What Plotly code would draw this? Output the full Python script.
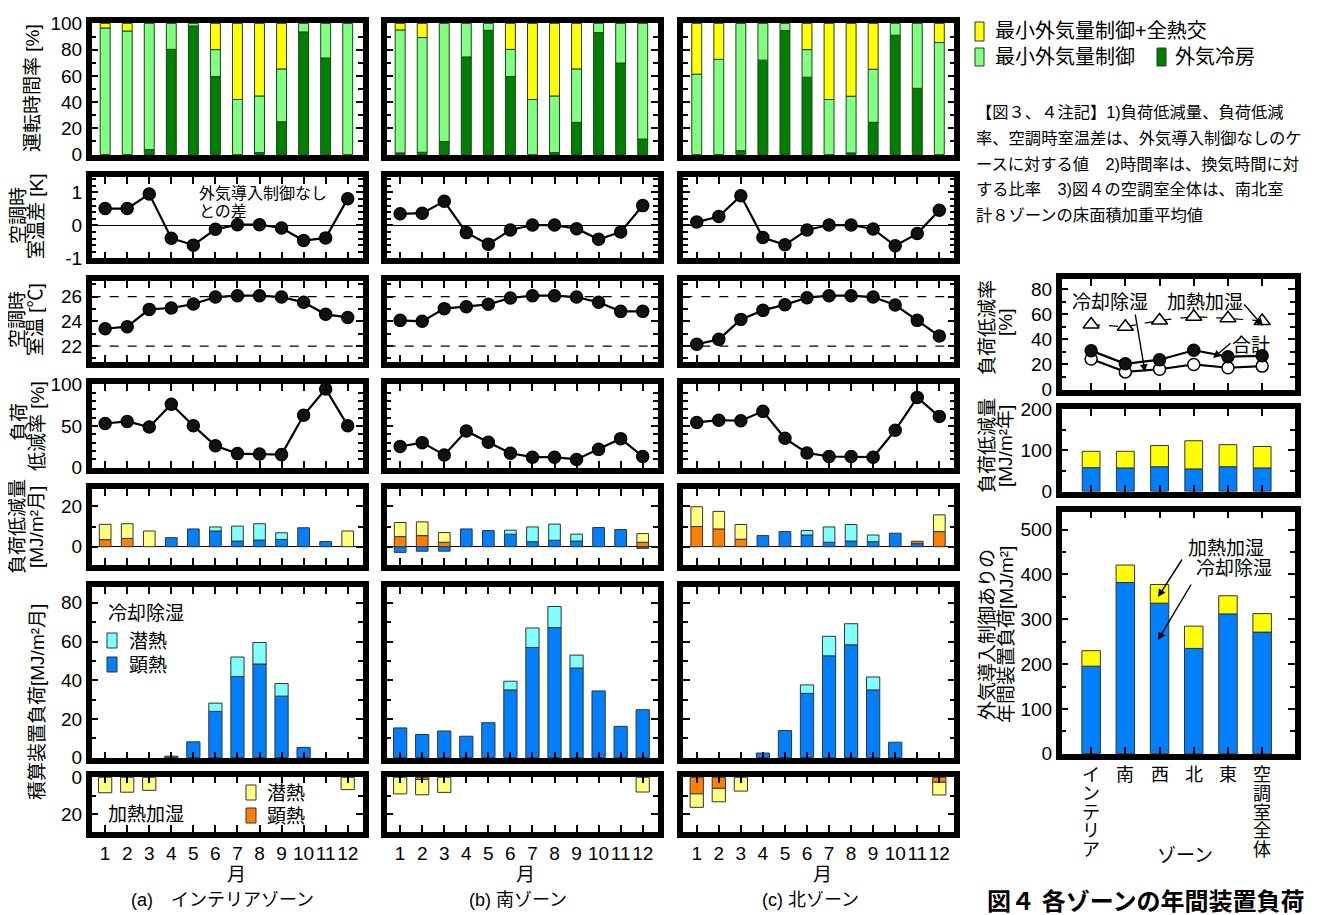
import plotly.graph_objects as go

# page body has an 8px margin: the figure is laid out in reference pixels
OFF = 8
W, H = 1319 - OFF, 915 - OFF
FONT = "Liberation Sans, Noto Sans CJK JP, sans-serif"

# ---------------- data ----------------
months = list(range(1, 13))
month_labels = [str(m) for m in months]
dT_ticks = [-1, 0, 1]
dT_ticktext = ["-1", "0", "1"]

# 運転時間率 [%]  (外気冷房 / 最小外気量制御 / 最小外気量制御+全熱交)
oc_a = [0, 0, 3.8, 80.2, 98, 59.5, 0, 1.5, 25, 93.5, 73.6, 0]
mn_a = [96.5, 94.2, 96.2, 19.8, 2, 20.5, 42, 43.2, 40.3, 6.5, 26.4, 100]
hx_a = [3.5, 5.8, 0, 0, 0, 20, 58, 55.3, 34.7, 0, 0, 0]
oc_b = [1.3, 1.8, 10, 74.4, 94.7, 59.5, 0, 1.5, 24.6, 93, 69.8, 11.8]
mn_b = [93.7, 87.4, 90, 25.6, 5.3, 20.7, 42, 43.2, 40.7, 7, 30.2, 88.2]
hx_b = [5, 10.8, 0, 0, 0, 19.8, 58, 55.3, 34.7, 0, 0, 0]
oc_c = [0, 0, 3, 72, 94.5, 59, 0, 1.3, 24.6, 91, 50.5, 0]
mn_c = [61.3, 72.6, 97, 28, 5.5, 21, 42, 43.2, 40.4, 9, 49.5, 85.4]
hx_c = [38.7, 27.4, 0, 0, 0, 20, 58, 55.5, 35, 0, 0, 14.6]

# 空調時室温差 [K]
dT_a = [0.51, 0.51, 0.95, -0.39, -0.6, -0.12, 0.02, 0.02, -0.08, -0.46, -0.38, 0.81]
dT_b = [0.35, 0.37, 0.73, -0.22, -0.57, -0.14, 0.01, 0.01, -0.1, -0.42, -0.2, 0.6]
dT_c = [0.1, 0.27, 0.9, -0.37, -0.59, -0.14, 0.01, 0.01, -0.11, -0.62, -0.25, 0.46]

# 空調時室温 [℃]
T_a = [23.4, 23.57, 24.97, 25.08, 25.4, 25.97, 26.08, 26.08, 25.97, 25.54, 24.57, 24.32]
T_b = [24.08, 24.0, 25.03, 25.19, 25.38, 25.89, 26.08, 26.08, 25.97, 25.54, 24.81, 24.81]
T_c = [22.14, 22.54, 24.16, 24.89, 25.35, 25.92, 26.08, 26.08, 25.97, 25.32, 24.08, 22.81]

# 負荷低減率 [%]
R_a = [53, 55.5, 48.8, 76.2, 50.4, 26.2, 16.8, 16.4, 15.6, 62.9, 94.5, 50.4]
R_b = [25.4, 30, 15.2, 44.1, 30.5, 17.2, 12.5, 12.5, 9.8, 21.9, 34.8, 13.3]
R_c = [54.3, 57, 56.3, 67.6, 35.2, 17.6, 13.3, 13.3, 12.5, 44.9, 84.4, 61.3]

# 負荷低減量 [MJ/m²月]  (冷却顕熱 / 冷却潜熱 / 加熱顕熱 / 加熱潜熱)
rcs_a = [0, 0, 0, 4.5, 8.8, 7.8, 2.8, 3.3, 3.6, 9.4, 2.6, 0]
rcl_a = [0, 0, 0, 0, 0, 2.0, 7.4, 8.1, 3.3, 0, 0, 0]
rhs_a = [3.5, 4.1, 0, 0, 0, 0, 0, 0, 0, 0, 0, 0]
rhl_a = [7.6, 7.3, 7.8, 0, 0, 0, 0, 0, 0, 0, 0, 7.8]
rcs_b = [-2.8, -2.2, -2.2, 8.8, 8.0, 6.2, 2.5, 3.2, 2.8, 9.5, 8.5, -0.8]
rcl_b = [0, 0, 0, 0, 0, 2.0, 7.3, 8.0, 3.4, 0, 0, 0]
rhs_b = [5.0, 5.5, 2.2, 0, 0, 0, 0, 0, 0, 0, 0, 2.2]
rhl_b = [7.0, 6.8, 4.8, 0, 0, 0, 0, 0, 0, 0, 0, 4.3]
rcs_c = [0, 0, 0, 5.5, 7.5, 5.8, 2.2, 2.8, 2.5, 6.7, 1.5, 0]
rcl_c = [0, 0, 0, 0, 0, 2.2, 7.6, 8.2, 3.3, 0, 0, 0]
rhs_c = [10, 8.8, 3.7, 0, 0, 0, 0, 0, 0, 0, 1.2, 7.5]
rhl_c = [9.8, 8.7, 7.3, 0, 0, 0, 0, 0, 0, 0, 0, 8.3]

# 積算装置負荷 冷却除湿 [MJ/m²月]
cs_a = [0, 0, 0, 0.8, 8.2, 23.9, 41.9, 48.4, 31.8, 5.3, 0, 0]
cl_a = [0, 0, 0, 0, 0, 4.3, 10.1, 11.1, 6.5, 0, 0, 0]
cs_b = [15.4, 12, 13.8, 11.1, 18.1, 35, 56.9, 67.2, 46.3, 34.5, 16.2, 24.8]
cl_b = [0, 0, 0, 0, 0, 4.5, 10.1, 10.9, 6.7, 0, 0, 0]
cs_c = [0, 0, 0, 2.4, 14, 33.2, 52.6, 58.3, 35, 8, 0, 0]
cl_c = [0, 0, 0, 0, 0, 4.4, 10.1, 10.9, 6.7, 0, 0, 0]

# 積算装置負荷 加熱加湿 [MJ/m²月]
hs_a = [0] * 12
hl_a = [8.4, 8.1, 7.1, 0, 0, 0, 0, 0, 0, 0, 0, 6.7]
hs_b = [0, 1.2, 0, 0, 0, 0, 0, 0, 0, 0, 0, 0]
hl_b = [9.0, 8.3, 8.2, 0, 0, 0, 0, 0, 0, 0, 0, 8.0]
hs_c = [9, 6, 0, 0, 0, 0, 0, 0, 0, 0, 0, 2.7]
hl_c = [7.3, 7.3, 7.5, 0, 0, 0, 0, 0, 0, 0, 0, 6.9]

# 図4 ゾーン別
zones = ["インテリア", "南", "西", "北", "東", "空調室全体"]
zone_pos = [1, 2, 3, 4, 5, 6]
rr_heat = [51.8, 50, 55, 58, 56.7, 54.6]
rr_total = [31, 20.5, 23.8, 31.3, 26.2, 26.9]
rr_cool = [24.4, 14.1, 16.2, 20, 17.4, 18.7]
yrr_cool = [57.8, 57, 60, 54.7, 60, 57]
yrr_heat = [39.9, 40.7, 51.7, 68.7, 54, 52.4]
yl_cool = [195.4, 382, 336, 235, 312, 271.4]
yl_heat = [34.6, 39, 41.6, 49.7, 40.5, 41.3]

# ---------------- colours ----------------
C_YEL = "#ffff00"
C_LGR = "#80ff80"
C_DGR = "#008000"
C_BLU = "#0080ff"
C_CYA = "#80ffff"
C_ORA = "#ff8000"
C_LYE = "#ffff80"

fig = go.Figure()
layout = {}
shapes = []
annotations = []
cnt = [0]


def fx(x):
    return (x - OFF) / W


def fy(y):
    return 1 - (y - OFF) / H


def nz(v):
    return [None if x == 0 else x for x in v]


def panel(xpx, ypx, xrange, yrange, ymaj, ymin, ylab=False, xticks=True,
          xvals=months, xlab=False, zeroline=False, ytext=None):
    cnt[0] += 1
    i = cnt[0]
    xa = "xaxis" if i == 1 else f"xaxis{i}"
    ya = "yaxis" if i == 1 else f"yaxis{i}"
    xr = "x" if i == 1 else f"x{i}"
    yr = "y" if i == 1 else f"y{i}"
    tf = dict(size=19, color="black", family=FONT)
    layout[xa] = dict(domain=[fx(xpx[0]), fx(xpx[1])], range=xrange, anchor=yr,
                      automargin=False,
                      showgrid=False, zeroline=False, showline=True, linewidth=5.5,
                      linecolor="black", mirror="ticks" if xticks else True,
                      ticks="inside" if xticks else "", tickmode="array",
                      tickvals=xvals, ticktext=month_labels if xlab else None,
                      ticklen=7, tickwidth=1.8, tickcolor="black",
                      showticklabels=xlab, tickangle=0, tickfont=tf,
                      ticklabelstandoff=0)
    yd = dict(domain=[fy(ypx[1]), fy(ypx[0])], range=yrange, anchor=xr,
              automargin=False,
              showgrid=False, zeroline=zeroline, zerolinecolor="black",
              zerolinewidth=1.2, showline=True, linewidth=5.5, linecolor="black",
              mirror="ticks", ticks="inside", tickmode="array", tickvals=ymaj,
              ticklen=7, tickwidth=1.8, tickcolor="black",
              minor=dict(tickmode="array", tickvals=ymin, ticks="inside",
                         ticklen=5, tickwidth=1.8, tickcolor="black", showgrid=False),
              showticklabels=ylab, tickfont=tf, ticklabelstandoff=0)
    if ytext is not None:
        yd["ticktext"] = ytext
    layout[ya] = yd
    return xr, yr


def bars(xr, yr, x, y, color, width, lc="#333"):
    fig.add_trace(go.Bar(x=x, y=nz(y), xaxis=xr, yaxis=yr, width=width,
                         marker=dict(color=color, line=dict(color=lc, width=1)),
                         showlegend=False, hoverinfo="skip"))


def linepts(xr, yr, x, y, fill="#111", dash="solid", symbol="circle", lw=2.2, size=12):
    fig.add_trace(go.Scatter(x=x, y=y, xaxis=xr, yaxis=yr, mode="lines+markers",
                             line=dict(color="black", width=lw, dash=dash),
                             marker=dict(color=fill, size=size, symbol=symbol,
                                         line=dict(color="black", width=1.5)),
                             showlegend=False, hoverinfo="skip"))


def txt(x, y, text, size=19, xanchor="center", angle=0, bold=False):
    if bold:
        text = "<b>" + text + "</b>"
    annotations.append(dict(x=fx(x), y=fy(y), xref="paper", yref="paper", text=text,
                            showarrow=False, xanchor=xanchor, yanchor="middle",
                            textangle=angle, font=dict(size=size, color="black", family=FONT)))


def arrow(x0, y0, x1, y1):
    annotations.append(dict(x=fx(x1), y=fy(y1), xref="paper", yref="paper", text="",
                            showarrow=True, ax=x0 - x1, ay=y0 - y1, arrowhead=2,
                            arrowsize=1.1, arrowwidth=1.4, arrowcolor="black"))


def rect(x0, y0, x1, y1, color):
    shapes.append(dict(type="rect", xref="paper", yref="paper", x0=fx(x0), x1=fx(x1),
                       y0=fy(y1), y1=fy(y0), fillcolor=color,
                       line=dict(color="#333", width=1)))


cols = [(91.7, 362.7), (386.7, 657.7), (683.3, 954.3)]
rows = [(23, 155), (177.3, 258.3), (281, 361.7), (384, 468), (489, 565),
        (587.3, 758.3), (776.7, 831.7)]
XR = [0.39, 12.68]

op_sets = [(oc_a, mn_a, hx_a), (oc_b, mn_b, hx_b), (oc_c, mn_c, hx_c)]
dT_sets = [dT_a, dT_b, dT_c]
T_sets = [T_a, T_b, T_c]
R_sets = [R_a, R_b, R_c]
red_sets = [(rcs_a, rcl_a, rhs_a, rhl_a), (rcs_b, rcl_b, rhs_b, rhl_b),
            (rcs_c, rcl_c, rhs_c, rhl_c)]
cool_sets = [(cs_a, cl_a), (cs_b, cl_b), (cs_c, cl_c)]
heat_sets = [(hs_a, hl_a), (hs_b, hl_b), (hs_c, hl_c)]

for c, cx in enumerate(cols):
    yl = (c == 0)
    # row 1
    xr, yr = panel(cx, rows[0], XR, [-0.3, 100.3], list(range(0, 101, 20)),
                   list(range(0, 101, 10)), ylab=yl, xticks=False)
    oc, mn, hx = op_sets[c]
    bars(xr, yr, months, oc, C_DGR, 0.45, "#1f3f1f")
    bars(xr, yr, months, mn, C_LGR, 0.45, "#1f3f1f")
    bars(xr, yr, months, hx, C_YEL, 0.45, "#1f3f1f")
    # row 2
    xr, yr = panel(cx, rows[1], XR, [-1.0, 1.46], dT_ticks,
                   [round(-1 + 0.2 * k, 1) for k in range(13)], ylab=yl, zeroline=True,
                   ytext=dT_ticktext)
    linepts(xr, yr, months, dT_sets[c])
    # row 3
    xr, yr = panel(cx, rows[2], XR, [20.73, 27.27], [22, 24, 26],
                   list(range(21, 28)), ylab=yl)
    for lv in (22, 26):
        shapes.append(dict(type="line", xref=f"{xr} domain", yref=yr, x0=0, x1=1,
                           y0=lv, y1=lv, line=dict(color="black", width=1.2, dash="dash"),
                           layer="below"))
    linepts(xr, yr, months, T_sets[c])
    # row 4
    xr, yr = panel(cx, rows[3], XR, [-0.5, 100.5], [0, 50, 100],
                   list(range(0, 101, 10)), ylab=yl)
    linepts(xr, yr, months, R_sets[c])
    # row 5
    xr, yr = panel(cx, rows[4], XR, [-9.06, 28.6], [0, 20], [-10, 0, 10, 20],
                   ylab=yl, zeroline=True)
    rcs, rcl, rhs, rhl = red_sets[c]
    bars(xr, yr, months, rcs, C_BLU, 0.53)
    bars(xr, yr, months, rcl, C_CYA, 0.53)
    bars(xr, yr, months, rhs, C_ORA, 0.53)
    bars(xr, yr, months, rhl, C_LYE, 0.53)
    # row 6
    xr, yr = panel(cx, rows[5], XR, [-0.3, 88.0], [0, 20, 40, 60, 80],
                   list(range(0, 90, 10)), ylab=yl)
    cs, cl = cool_sets[c]
    bars(xr, yr, months, cs, C_BLU, 0.6)
    bars(xr, yr, months, cl, C_CYA, 0.6)
    # row 7
    xr, yr = panel(cx, rows[6], XR, [29.5, -0.3], [0, 20], [0, 10, 20],
                   ylab=yl, xlab=True)
    hs, hl = heat_sets[c]
    bars(xr, yr, months, hs, C_ORA, 0.6)
    bars(xr, yr, months, hl, C_LYE, 0.6)

# ---------------- right column (図4) ----------------
RX = (1061.7, 1295)
ZR = [0.14, 6.96]
xr, yr = panel(RX, (279, 390), ZR, [-0.3, 88], [0, 20, 40, 60, 80],
               list(range(0, 90, 10)), ylab=True, xvals=zone_pos)
linepts(xr, yr, zone_pos, rr_heat, fill="white", dash="dash", symbol="triangle-up",
        lw=1.2, size=14)
linepts(xr, yr, zone_pos, rr_cool, fill="white")
linepts(xr, yr, zone_pos, rr_total, fill="#111")

xr, yr = panel(RX, (409, 491.7), ZR, [-1, 201], [0, 100, 200], [0, 50, 100, 150, 200],
               ylab=True, xvals=zone_pos)
bars(xr, yr, zone_pos, yrr_cool, C_BLU, 0.52)
bars(xr, yr, zone_pos, yrr_heat, C_YEL, 0.52)

xr3, yr3 = panel(RX, (511.7, 754), ZR, [-0.5, 540], list(range(0, 501, 100)),
                 list(range(0, 541, 50)), ylab=True, xvals=zone_pos)
bars(xr3, yr3, zone_pos, yl_cool, C_BLU, 0.54)
bars(xr3, yr3, zone_pos, yl_heat, C_YEL, 0.54)

# zone labels (vertical)
for p, z in zip(zone_pos, zones):
    for k, ch in enumerate(z):
        annotations.append(dict(x=p, y=fy(775 + 18.8 * k), xref=xr3, yref="paper",
                                text=ch, showarrow=False, xanchor="center", yanchor="middle",
                                font=dict(size=18, color="black", family=FONT)))
txt(1185, 855, "ゾーン")
txt(985, 901, "図４ 各ゾーンの年間装置負荷", size=24, xanchor="left", bold=True)

# annotations right
txt(1110, 302, "冷却除湿")
arrow(1135, 313, 1145, 372)
txt(1205, 302, "加熱加湿")
arrow(1243, 303, 1263, 326)
txt(1251, 346, "合計")
arrow(1232, 342, 1213, 358)
txt(1226, 548, "加熱加湿")
txt(1234, 568, "冷却除湿")
arrow(1183, 558, 1158, 597)
arrow(1192, 583, 1158, 640)

# axis titles (left)
txt(33, 88, "運転時間率 [%]", angle=-90)
txt(18, 216, "空調時", angle=-90)
txt(36, 216, "室温差 [K]", angle=-90)
txt(17, 320, "空調時", angle=-90)
txt(35, 320, "室温 [℃]", angle=-90)
txt(20, 422, "負荷", angle=-90)
txt(37, 426, "低減率 [%]", angle=-90)
txt(17, 527, "負荷低減量", angle=-90)
txt(36, 527, "[MJ/m²月]", angle=-90)
txt(37, 702, "積算装置負荷[MJ/m²月]", angle=-90)
# axis titles (right)
txt(987, 328, "負荷低減率", angle=-90)
txt(1005, 323, "[%]", angle=-90)
txt(987, 446, "負荷低減量", angle=-90)
txt(1005, 446, "[MJ/m²年]", angle=-90)
txt(987, 635, "外気導入制御ありの", angle=-90)
txt(1006, 635, "年間装置負荷[MJ/m²]", angle=-90)

# in-panel labels
txt(197, 193, "外気導入制御なし", size=16, xanchor="left")
txt(197, 211, "との差", size=16, xanchor="left")
txt(106, 613, "冷却除湿", size=19, xanchor="left")
rect(107, 633, 117, 648, C_CYA)
txt(127, 641, "潜熱", size=19, xanchor="left")
rect(107, 657, 117, 672, C_BLU)
txt(127, 665, "顕熱", size=19, xanchor="left")
txt(106, 814, "加熱加湿", size=19, xanchor="left")
rect(246, 785, 256, 800, C_LYE)
txt(265, 793, "潜熱", size=19, xanchor="left")
rect(246, 808, 256, 823, C_ORA)
txt(265, 816, "顕熱", size=19, xanchor="left")

# month axis captions
for cxc in (236, 525, 822):
    txt(cxc, 874, "月")
txt(222, 900, "(a)　インテリアゾーン", size=18)
txt(518, 900, "(b) 南ゾーン", size=18)
txt(810, 900, "(c) 北ゾーン", size=18)

# legend (top right)
rect(975, 22, 984, 41, C_YEL)
txt(993, 31, "最小外気量制御+全熱交", size=20, xanchor="left")
rect(975, 48, 984, 66, C_LGR)
txt(993, 57, "最小外気量制御", size=20, xanchor="left")
rect(1157, 48, 1166, 66, C_DGR)
txt(1173, 57, "外気冷房", size=20, xanchor="left")

notes = ["【図３、４注記】1)負荷低減量、負荷低減",
         "率、空調時室温差は、外気導入制御なしのケ",
         "ースに対する値　2)時間率は、換気時間に対",
         "する比率　3)図４の空調室全体は、南北室",
         "計８ゾーンの床面積加重平均値"]
for k, line in enumerate(notes):
    txt(974, 112 + 25.8 * k, line, size=16.3, xanchor="left")

fig.update_layout(**layout)
fig.update_layout(width=W, height=H, margin=dict(l=0, r=0, t=0, b=0, autoexpand=False),
                  paper_bgcolor="white", plot_bgcolor="white", barmode="relative",
                  showlegend=False, shapes=shapes, annotations=annotations,
                  font=dict(family=FONT, size=19, color="black"))
fig.write_html("out.html")
